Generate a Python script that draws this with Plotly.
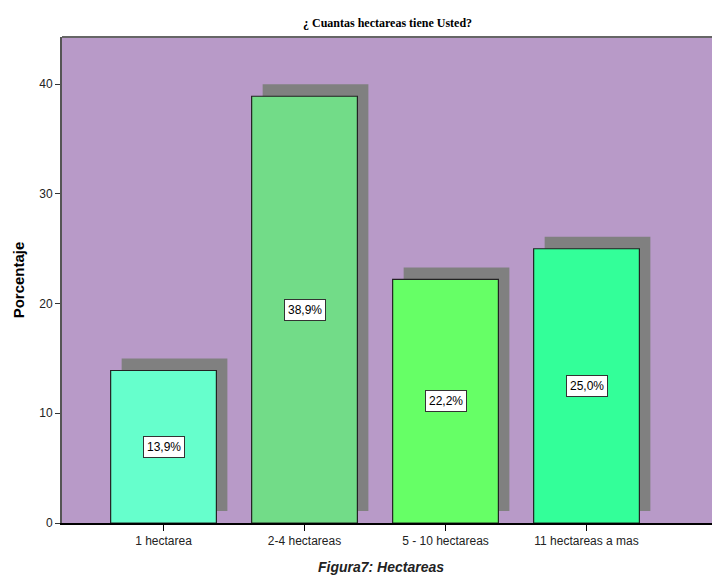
import plotly.graph_objects as go

categories = ["1 hectarea", "2-4 hectareas", "5 - 10 hectareas", "11 hectareas a mas"]
values = [13.9, 38.9, 22.2, 25.0]
labels = ["13,9%", "38,9%", "22,2%", "25,0%"]
colors = ["#66FFCC", "#72DC88", "#66FF66", "#33FF99"]
y_ticks = [0, 10, 20, 30, 40]

fig = go.Figure()
fig.add_trace(go.Bar(
    x=categories, y=values, base=[1.1] * 4,
    width=0.75, offset=-0.375 + 0.078,
    marker=dict(color="#808080", line=dict(width=0)),
    hoverinfo="skip", showlegend=False,
))
fig.add_trace(go.Bar(
    x=categories, y=values,
    width=0.75, offset=-0.375,
    marker=dict(color=colors, line=dict(color="#222222", width=1.2)),
    showlegend=False,
))
for c, v, t in zip(categories, values, labels):
    fig.add_annotation(x=c, y=v / 2, text=t, showarrow=False,
                       bgcolor="white", bordercolor="#333333", borderwidth=1, borderpad=3,
                       font=dict(family="Liberation Sans", size=12, color="black"))

fig.add_annotation(x=0.5, y=1, xref="paper", yref="paper", yanchor="bottom", yshift=5,
                   text="<b>¿ Cuantas hectareas tiene Usted?</b>", showarrow=False,
                   font=dict(family="Liberation Serif", size=12, color="black"))
fig.add_annotation(x=0.49, y=-0.07, xref="paper", yref="paper", yanchor="top",
                   text="<b><i>Figura7: Hectareas</i></b>", showarrow=False,
                   font=dict(family="Liberation Sans", size=14, color="#222222"))
fig.add_shape(type="line", xref="paper", yref="paper", x0=0, x1=1, y0=1, y1=1,
              line=dict(color="#666666", width=2))

fig.update_layout(
    width=712, height=575,
    margin=dict(l=62, r=0, t=37, b=52),
    paper_bgcolor="white", plot_bgcolor="#B89AC8",
    barmode="overlay",
    font=dict(family="Liberation Sans", size=12, color="#222222"),
)
fig.update_xaxes(range=[-0.72, 3.89], showgrid=False, ticks="outside", ticklen=6,
                 tickcolor="black", showline=True, linecolor="black", linewidth=1.5,
                 tickfont=dict(size=12, color="#222222"))
fig.update_yaxes(range=[0, 44.3], tickvals=y_ticks, showgrid=False, ticks="outside", ticklen=5,
                 tickcolor="#333333", showline=True, linecolor="#555555", linewidth=2,
                 zeroline=False, tickfont=dict(size=12, color="#222222"),
                 title=dict(text="<b>Porcentaje</b>", font=dict(size=15, color="black"), standoff=11))

fig.write_html("out.html", config={"displayModeBar": False},
               post_script="document.body.style.margin='0px';document.body.style.overflow='hidden';")
